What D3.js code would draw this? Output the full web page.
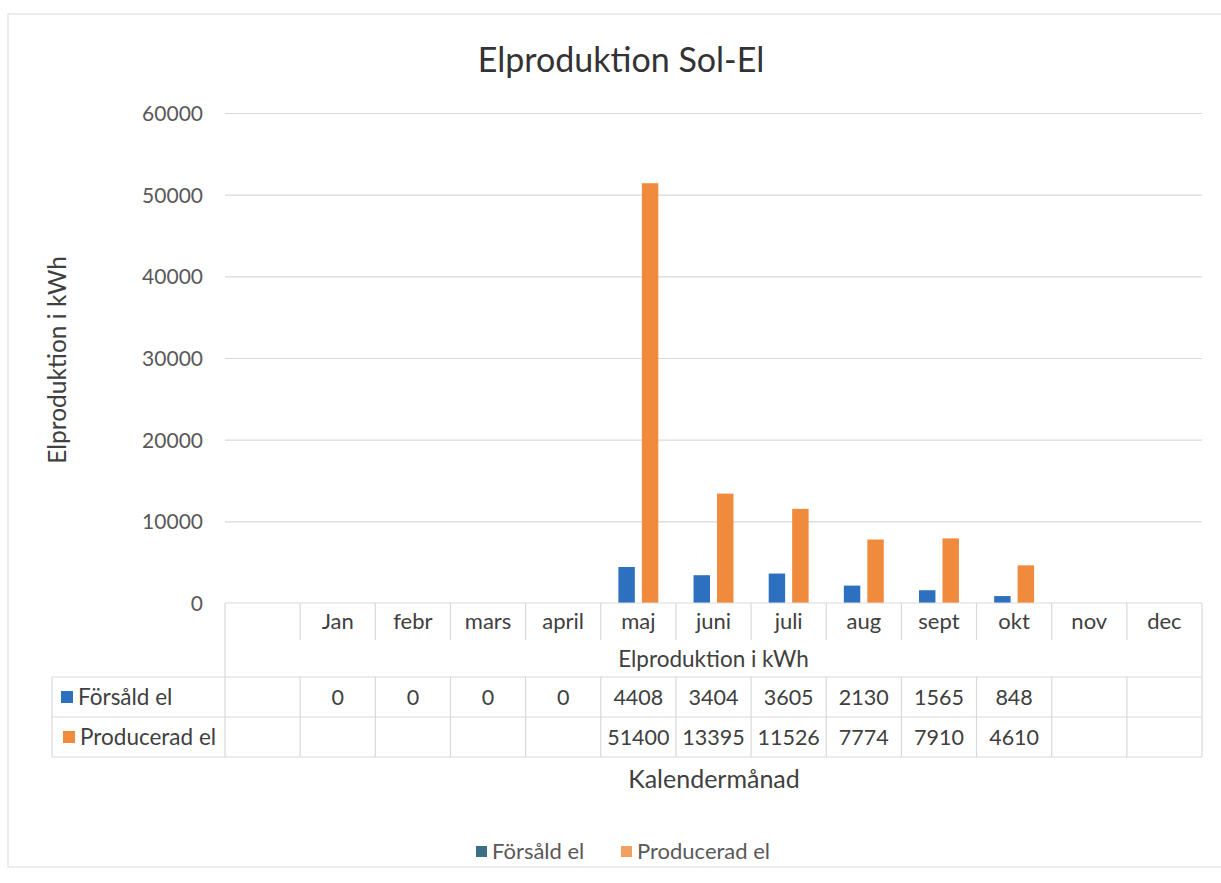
<!DOCTYPE html>
<html>
<head>
<meta charset="utf-8">
<script src="https://cdn.jsdelivr.net/npm/d3@7"></script>
<style>
  html, body { margin: 0; padding: 0; background: #ffffff; }
  svg { display: block; }
  text { font-family: Lato, "Noto Sans", sans-serif; }
</style>
</head>
<body>
<svg id="chart" width="1221" height="883"></svg>
<script>
// ---- data ----
const categories = ["", "Jan", "febr", "mars", "april", "maj", "juni", "juli", "aug", "sept", "okt", "nov", "dec"];
const seriesNames = ["Försåld el", "Producerad el"];
const forsald    = [null, 0, 0, 0, 0, 4408, 3404, 3605, 2130, 1565, 848, null, null];
const producerad = [null, null, null, null, null, 51400, 13395, 11526, 7774, 7910, 4610, null, null];
const yTicks = [0, 10000, 20000, 30000, 40000, 50000, 60000];
const colors = ["#2e70c0", "#f08a3c"];
const legendColors = ["#3c6f86", "#f0a060"];

const title = "Elproduktion Sol-El";
const yTitle = "Elproduktion i kWh";
const xGroupLabel = "Elproduktion i kWh";
const xTitle = "Kalendermånad";

const series = [forsald, producerad];

// ---- layout ----
const svg = d3.select("#chart");
const plotLeft = 225, plotRight = 1202, plotTop = 113, plotBottom = 603;
const rowCat = [603, 640], rowGroup = [640, 677];
const rowS = [[677, 717], [717, 757]];
const tableLeft = 52;
const gridColor = "#d9d9d9";
const textColor = "#404040";

// chart border (scan frame)
svg.append("rect").attr("x", 8).attr("y", 14).attr("width", 1240).attr("height", 853)
  .attr("fill", "#ffffff").attr("stroke", "#e2e2e2").attr("stroke-width", 1.2);

const x = d3.scaleBand().domain(categories.map((d, i) => i)).range([plotLeft, plotRight]).paddingInner(0).paddingOuter(0);
const x1 = d3.scaleBand().domain([0, 1]).range([0, x.bandwidth()]).paddingInner(0.3).paddingOuter(0.75);
const y = d3.scaleLinear().domain([0, 60000]).range([plotBottom, plotTop]);

// gridlines via axis
const yAxis = d3.axisLeft(y).tickValues(yTicks).tickSize(-(plotRight - plotLeft)).tickPadding(22).tickFormat(d3.format("d"));
const gy = svg.append("g").attr("transform", `translate(${plotLeft},0)`).call(yAxis);
gy.select(".domain").remove();
gy.selectAll(".tick line").attr("stroke", gridColor).attr("stroke-width", 1.2)
  .filter(d => d === 0).remove();
gy.selectAll(".tick text").attr("fill", "#595959").attr("font-size", 21)
  .attr("font-family", "Lato, sans-serif").attr("dy", "0.35em");

// bars
series.forEach((vals, si) => {
  svg.append("g").selectAll("rect")
    .data(vals.map((v, i) => ({ v, i })).filter(d => d.v != null && d.v > 0))
    .join("rect")
    .attr("x", d => x(d.i) + x1(si))
    .attr("width", x1.bandwidth())
    .attr("y", d => y(d.v))
    .attr("height", d => y(0) - y(d.v))
    .attr("fill", colors[si]);
});

// ---- data table ----
const tg = svg.append("g").attr("stroke", gridColor).attr("stroke-width", 1.2).attr("fill", "none");
tg.append("line").attr("x1", plotLeft).attr("x2", plotRight).attr("y1", rowCat[0]).attr("y2", rowCat[0]);
tg.append("line").attr("x1", tableLeft).attr("x2", plotRight).attr("y1", rowS[0][0]).attr("y2", rowS[0][0]);
tg.append("line").attr("x1", tableLeft).attr("x2", plotRight).attr("y1", rowS[1][0]).attr("y2", rowS[1][0]);
tg.append("line").attr("x1", tableLeft).attr("x2", plotRight).attr("y1", rowS[1][1]).attr("y2", rowS[1][1]);
tg.append("line").attr("x1", plotLeft).attr("x2", plotLeft).attr("y1", rowCat[0]).attr("y2", rowS[1][1]);
tg.append("line").attr("x1", plotRight).attr("x2", plotRight).attr("y1", rowCat[0]).attr("y2", rowS[1][1]);
tg.append("line").attr("x1", tableLeft).attr("x2", tableLeft).attr("y1", rowS[0][0]).attr("y2", rowS[1][1]);
categories.forEach((c, i) => {
  if (i === 0) return;
  const xx = x(i);
  tg.append("line").attr("x1", xx).attr("x2", xx).attr("y1", rowCat[0]).attr("y2", rowCat[1]);
  tg.append("line").attr("x1", xx).attr("x2", xx).attr("y1", rowS[0][0]).attr("y2", rowS[1][1]);
});

// category labels
svg.append("g").selectAll("text").data(categories).join("text")
  .attr("x", (d, i) => x(i) + x.bandwidth() / 2)
  .attr("y", (rowCat[0] + rowCat[1]) / 2)
  .attr("dy", "0.35em").attr("text-anchor", "middle")
  .attr("font-size", 22).attr("fill", textColor).text(d => d);

// group label
svg.append("text").attr("x", (plotLeft + plotRight) / 2).attr("y", (rowGroup[0] + rowGroup[1]) / 2 + 1)
  .attr("dy", "0.35em").attr("text-anchor", "middle").attr("font-size", 22.5).attr("fill", textColor)
  .text(xGroupLabel);

// series rows
const squareX = [61, 63];
series.forEach((vals, si) => {
  const cy = (rowS[si][0] + rowS[si][1]) / 2;
  svg.append("rect").attr("x", squareX[si]).attr("y", cy - 6).attr("width", 12).attr("height", 12).attr("fill", colors[si]);
  svg.append("text").attr("x", squareX[si] + 17).attr("y", cy).attr("dy", "0.35em")
    .attr("font-size", 22.5).attr("fill", textColor).text(seriesNames[si]);
  svg.append("g").selectAll("text").data(vals.map((v, i) => ({ v, i })).filter(d => d.v != null))
    .join("text")
    .attr("x", d => x(d.i) + x.bandwidth() / 2)
    .attr("y", cy).attr("dy", "0.35em").attr("text-anchor", "middle")
    .attr("font-size", 21.5).attr("fill", textColor).text(d => d.v);
});

// titles
svg.append("text").attr("x", 621).attr("y", 60).attr("dy", "0.35em").attr("text-anchor", "middle")
  .attr("font-size", 34).attr("fill", "#333333").text(title);

svg.append("text").attr("transform", `translate(57,360) rotate(-90)`).attr("dy", "0.35em")
  .attr("text-anchor", "middle").attr("font-size", 24.5).attr("fill", textColor).text(yTitle);

svg.append("text").attr("x", 714).attr("y", 779).attr("dy", "0.35em")
  .attr("text-anchor", "middle").attr("font-size", 25).attr("fill", textColor).text(xTitle);

// legend
const lg = svg.append("g");
const legendItems = [{ x: 476, name: seriesNames[0], c: legendColors[0] }, { x: 621, name: seriesNames[1], c: legendColors[1] }];
legendItems.forEach(it => {
  lg.append("rect").attr("x", it.x).attr("y", 846).attr("width", 11).attr("height", 11).attr("fill", it.c);
  lg.append("text").attr("x", it.x + 16).attr("y", 851).attr("dy", "0.35em")
    .attr("font-size", 22).attr("fill", "#595959").text(it.name);
});
</script>
</body>
</html>
